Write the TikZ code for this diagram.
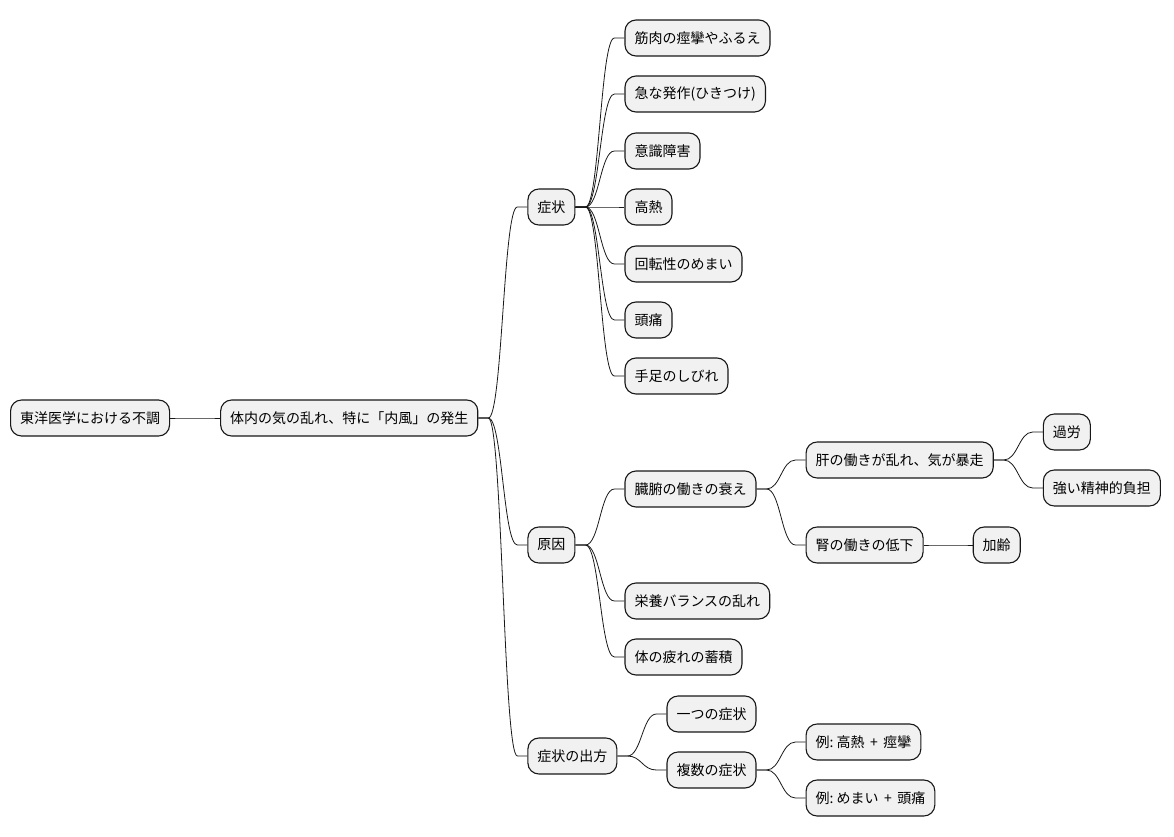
\documentclass[tikz,border=0pt]{standalone}
\usepackage{fontspec}
\setmainfont{Noto Sans CJK JP}
\definecolor{boxfill}{HTML}{F1F1F1}
\definecolor{boxline}{HTML}{181818}
\newcommand\mmlink[2]{\draw[link] (#1.east) -- ++(10,0) to[out=0,in=180,distance=14pt] ([xshift=-10pt]#2.west) -- (#2.west);}
\begin{document}
\begin{tikzpicture}[x=1pt,y=-1pt,
  mm/.style={draw=boxline, line width=1.1pt, fill=boxfill, rounded corners=11pt,
    minimum height=36pt, inner xsep=9.5pt, inner ysep=0pt,
    font=\fontsize{14pt}{16pt}\selectfont, anchor=west, text=black},
  link/.style={line width=0.8pt, draw=boxline}]
\useasboundingbox (0,0) rectangle (1174,837);
\node[mm] (root) at (10,418) {東洋医学における不調};
\node[mm, xshift=50pt] (n1) at (root.east) {体内の気の乱れ、特に「内風」の発生};
% 症状
\node[mm, xshift=49pt] (s) at (n1.east |- 0,207) {症状};
\node[mm, xshift=49pt] (s1) at (s.east |- 0,38) {筋肉の痙攣やふるえ};
\node[mm, xshift=49pt] (s2) at (s.east |- 0,94) {急な発作(ひきつけ)};
\node[mm, xshift=49pt] (s3) at (s.east |- 0,151) {意識障害};
\node[mm, xshift=49pt] (s4) at (s.east |- 0,207) {高熱};
\node[mm, xshift=49pt] (s5) at (s.east |- 0,264) {回転性のめまい};
\node[mm, xshift=49pt] (s6) at (s.east |- 0,320) {頭痛};
\node[mm, xshift=49pt] (s7) at (s.east |- 0,376) {手足のしびれ};
% 原因
\node[mm, xshift=49pt] (g) at (n1.east |- 0,545) {原因};
\node[mm, xshift=49pt] (g1) at (g.east |- 0,489) {臓腑の働きの衰え};
\node[mm, xshift=49pt] (g11) at (g1.east |- 0,460) {肝の働きが乱れ、気が暴走};
\node[mm, xshift=49pt] (g111) at (g11.east |- 0,432) {過労};
\node[mm, xshift=49pt] (g112) at (g11.east |- 0,488) {強い精神的負担};
\node[mm, xshift=49pt] (g12) at (g1.east |- 0,545) {腎の働きの低下};
\node[mm, xshift=49pt] (g121) at (g12.east |- 0,545) {加齢};
\node[mm, xshift=49pt] (g2) at (g.east |- 0,601) {栄養バランスの乱れ};
\node[mm, xshift=49pt] (g3) at (g.east |- 0,657) {体の疲れの蓄積};
% 症状の出方
\node[mm, xshift=49pt] (d) at (n1.east |- 0,756) {症状の出方};
\node[mm, xshift=49pt] (d1) at (d.east |- 0,714) {一つの症状};
\node[mm, xshift=49pt] (d2) at (d.east |- 0,770) {複数の症状};
\node[mm, xshift=49pt] (d21) at (d2.east |- 0,742) {例:\ 高熱\ \,+\,\ 痙攣};
\node[mm, xshift=49pt] (d22) at (d2.east |- 0,798) {例:\ めまい\ \,+\,\ 頭痛};
% links
\mmlink{root}{n1}
\mmlink{n1}{s}
\mmlink{n1}{g}
\mmlink{n1}{d}
\foreach \c in {s1,s2,s3,s4,s5,s6,s7} {\mmlink{s}{\c}}
\mmlink{g}{g1}
\mmlink{g}{g2}
\mmlink{g}{g3}
\mmlink{g1}{g11}
\mmlink{g1}{g12}
\mmlink{g11}{g111}
\mmlink{g11}{g112}
\mmlink{g12}{g121}
\mmlink{d}{d1}
\mmlink{d}{d2}
\mmlink{d2}{d21}
\mmlink{d2}{d22}
\end{tikzpicture}
\end{document}
